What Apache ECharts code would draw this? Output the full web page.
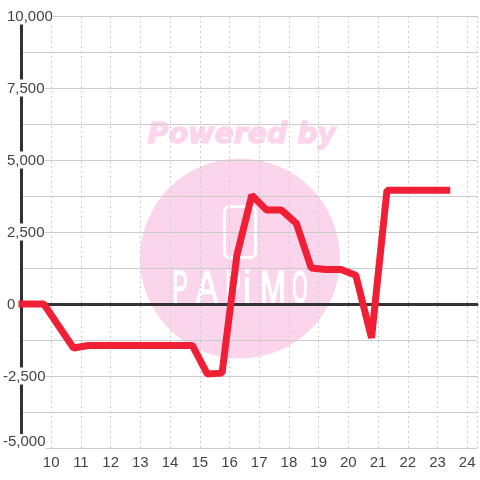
<!DOCTYPE html>
<html><head><meta charset="utf-8">
<style>html,body{margin:0;padding:0;background:#fff}#c{width:480px;height:480px}</style>
<script src="https://cdn.jsdelivr.net/npm/echarts@6/dist/echarts.min.js"></script>
</head><body><div id="c"></div>
<script>
const hours = [8.9,9.75,10.75,11.25,11.75,12.25,12.75,13.25,13.75,14.25,14.75,15.25,15.75,16.25,16.75,17.25,17.75,18.25,18.75,19.25,19.75,20.25,20.78,21.3,21.75,22.25,22.75,23.43];
const values = [0,0,-1530,-1440,-1440,-1440,-1440,-1440,-1440,-1440,-1440,-2430,-2400,1700,3780,3260,3260,2800,1250,1200,1200,1000,-1180,3950,3950,3950,3950,3950];
const xTicks = [10,11,12,13,14,15,16,17,18,19,20,21,22,23,24];
const yLabels = {'10000':'10,000','7500':'7,500','5000':'5,000','2500':'2,500','0':'0','-2500':'-2,500','-5000':'-5,000'};
const FONT='"Liberation Sans",Arial,sans-serif';
const PINK='#fbd5ec';
const chart=echarts.init(document.getElementById('c'),null,{renderer:'canvas'});
function letter(t,x,sx){return {type:'text',z:-1,x:x,y:290,scaleX:sx,scaleY:1,originX:0,originY:0,style:{text:t,font:'47px '+FONT,fill:'#fff',stroke:'#fff',lineWidth:1.6,align:'center',verticalAlign:'middle'}};}
const base={backgroundColor:'#fff',color:'#444',fontFamily:FONT,fontSize:15};
chart.setOption({
 animation:false,
 grid:{left:20.5,right:0,top:16,bottom:32,containLabel:false},
 graphic:[
  {type:'circle',z:-2,shape:{cx:240,cy:258.5,r:100},style:{fill:PINK}},
  {type:'text',z:-2,x:242,y:135,scaleX:0.98,style:{text:'Powered by',font:'italic bold 29px "DejaVu Sans"',fill:PINK,stroke:PINK,lineWidth:1.4,align:'center',verticalAlign:'middle'}},
  {type:'rect',z:-1,shape:{x:224.5,y:206.5,width:31,height:51,r:5},style:{fill:'none',stroke:'#fff',lineWidth:3}},
  letter('P',180,0.5),letter('A',207,0.7),letter('P',233,0.5),letter('i',247,0.7),letter('M',273,0.65),letter('O',300,0.42)
 ],
 xAxis:[{type:'value',min:9,max:24.33,interval:1,
   axisLine:{show:false,onZero:false},axisTick:{show:false},
   axisLabel:{margin:7,color:'#444',fontFamily:FONT,fontSize:15,
     formatter:v=>xTicks.includes(v)?String(v):''},
   splitLine:{show:true,lineStyle:{color:'#ccc',type:[2,3],width:1}}},
  {type:'value',min:9,max:24.33,interval:1,position:'bottom',
   axisLine:{show:true,onZero:true,onZeroAxisIndex:0,lineStyle:{color:'#333',width:3}},axisTick:{show:false},axisLabel:{show:false},splitLine:{show:false}}],
 yAxis:{type:'value',min:-5000,max:10000,interval:1250,
   axisLine:{show:true,onZero:false,lineStyle:{color:'#333',width:3}},axisTick:{show:false},
   axisLabel:{margin:18.5,align:'left',showMinLabel:true,showMaxLabel:true,
     color:'#444',fontFamily:FONT,fontSize:15,
     formatter:v=>{const s=yLabels[String(v)];if(!s)return '';if(v===-5000)return '{m|'+s+'}';return v<0?'{n|'+s+'}':'{p|'+s+'}';},
     rich:{m:{...base,padding:[0,0,13,0]},
           n:{...base,padding:[2,0,0,0]},
           p:{...base,padding:[2,0,0,4]}}},
   splitLine:{show:true,lineStyle:{color:'#ccc',width:1}}},
 series:[{type:'line',xAxisIndex:0,data:hours.map((h,i)=>[h,values[i]]),showSymbol:false,symbol:'none',clip:false,
   lineStyle:{color:'#f01f35',width:7,join:'bevel',cap:'butt'}}]
});
</script></body></html>
